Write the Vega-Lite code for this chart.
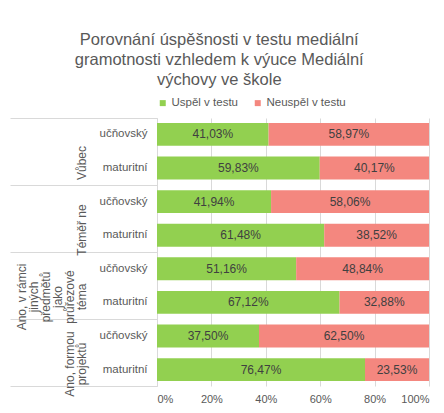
{
  "$schema": "https://vega.github.io/schema/vega-lite/v6.json",
  "background": "white",
  "padding": {"left": 9, "top": 31, "right": 5, "bottom": 5},
  "title": {
    "text": ["Porovnání úspěšnosti v testu mediální", "gramotnosti vzhledem k výuce Mediální", "výchovy ve škole"],
    "font": "Liberation Sans", "fontSize": 16.5, "fontWeight": "normal", "color": "#595959",
    "anchor": "middle", "frame": "bounds", "lineHeight": 20, "offset": 9
  },
  "width": 272,
  "height": 268,
  "data": {"values": [
    {"group": "Vůbec", "sub": "učňovský", "result": "Uspěl v testu", "pct": 41.03},
    {"group": "Vůbec", "sub": "učňovský", "result": "Neuspěl v testu", "pct": 58.97},
    {"group": "Vůbec", "sub": "maturitní", "result": "Uspěl v testu", "pct": 59.83},
    {"group": "Vůbec", "sub": "maturitní", "result": "Neuspěl v testu", "pct": 40.17},
    {"group": "Téměř ne", "sub": "učňovský", "result": "Uspěl v testu", "pct": 41.94},
    {"group": "Téměř ne", "sub": "učňovský", "result": "Neuspěl v testu", "pct": 58.06},
    {"group": "Téměř ne", "sub": "maturitní", "result": "Uspěl v testu", "pct": 61.48},
    {"group": "Téměř ne", "sub": "maturitní", "result": "Neuspěl v testu", "pct": 38.52},
    {"group": "Ano, v rámci jiných předmětů jako průřezové téma", "sub": "učňovský", "result": "Uspěl v testu", "pct": 51.16},
    {"group": "Ano, v rámci jiných předmětů jako průřezové téma", "sub": "učňovský", "result": "Neuspěl v testu", "pct": 48.84},
    {"group": "Ano, v rámci jiných předmětů jako průřezové téma", "sub": "maturitní", "result": "Uspěl v testu", "pct": 67.12},
    {"group": "Ano, v rámci jiných předmětů jako průřezové téma", "sub": "maturitní", "result": "Neuspěl v testu", "pct": 32.88},
    {"group": "Ano, formou projektů", "sub": "učňovský", "result": "Uspěl v testu", "pct": 37.50},
    {"group": "Ano, formou projektů", "sub": "učňovský", "result": "Neuspěl v testu", "pct": 62.50},
    {"group": "Ano, formou projektů", "sub": "maturitní", "result": "Uspěl v testu", "pct": 76.47},
    {"group": "Ano, formou projektů", "sub": "maturitní", "result": "Neuspěl v testu", "pct": 23.53}
  ]},
  "transform": [
    {"calculate": "datum.group + '|' + datum.sub", "as": "key"},
    {"calculate": "datum.result === 'Uspěl v testu' ? 0 : 1", "as": "ord"},
    {"stack": "pct", "groupby": ["key"], "sort": [{"field": "ord"}], "as": ["x0", "x1"]},
    {"calculate": "(datum.x0 + datum.x1) / 2", "as": "mid"},
    {"calculate": "replace(format(datum.pct, '.2f'), '.', ',') + '%'", "as": "lbl"}
  ],
  "layer": [
    {
      "encoding": {
        "y": {
          "field": "key", "type": "nominal",
          "sort": ["Vůbec|učňovský", "Vůbec|maturitní", "Téměř ne|učňovský", "Téměř ne|maturitní", "Ano, v rámci jiných předmětů jako průřezové téma|učňovský", "Ano, v rámci jiných předmětů jako průřezové téma|maturitní", "Ano, formou projektů|učňovský", "Ano, formou projektů|maturitní"],
          "scale": {"paddingInner": 0.32, "paddingOuter": 0.15},
          "axis": {
            "orient": "left", "title": null, "ticks": false, "labelPadding": 10, "labelOverlap": false,
            "labelExpr": "split(datum.value, '|')[1]", "domainColor": "#d9d9d9",
            "labelColor": "#595959", "labelFont": "Liberation Sans", "labelFontSize": 11.5
          }
        }
      },
      "layer": [
        {
          "mark": {"type": "bar"},
          "encoding": {
            "x": {
              "field": "x0", "type": "quantitative",
              "scale": {"domain": [0, 100], "nice": false},
              "axis": {
                "title": null, "values": [0, 20, 40, 60, 80, 100], "labelExpr": "datum.value + '%'",
                "domain": false, "ticks": false, "gridColor": "#d9d9d9",
                "labelColor": "#595959", "labelFont": "Liberation Sans", "labelFontSize": 11, "labelPadding": 7
              }
            },
            "x2": {"field": "x1"},
            "color": {
              "field": "result", "type": "nominal",
              "scale": {"domain": ["Uspěl v testu", "Neuspěl v testu"], "range": ["#92D050", "#F4877F"]},
              "legend": {
                "title": null, "orient": "top", "direction": "horizontal", "symbolType": "square",
                "symbolSize": 36, "symbolStrokeWidth": 0, "labelFont": "Liberation Sans", "labelFontSize": 11.5,
                "labelOffset": 3, "labelColor": "#595959", "columnPadding": 14, "offset": 9
              }
            }
          }
        },
        {
          "mark": {"type": "text", "font": "Liberation Sans", "fontSize": 12, "color": "#404040"},
          "encoding": {
            "x": {"field": "mid", "type": "quantitative"},
            "text": {"field": "lbl"}
          }
        }
      ]
    },
    {
      "mark": {"type": "text"},
      "encoding": {
        "y": {
          "field": "group", "type": "nominal",
          "sort": ["Vůbec", "Téměř ne", "Ano, v rámci jiných předmětů jako průřezové téma", "Ano, formou projektů"],
          "scale": {"paddingInner": 0, "paddingOuter": 0},
          "axis": {
            "orient": "left", "title": null, "domain": false,
            "tickBand": "extent", "tickSize": 147, "tickColor": "#d9d9d9",
            "labelAngle": -90, "labelAlign": "center", "labelBaseline": "bottom", "labelOffset": 11,
            "labelPadding": {"condition": [
              {"test": "datum.value === 'Ano, v rámci jiných předmětů jako průřezové téma'", "value": -18},
              {"test": "datum.value === 'Ano, formou projektů'", "value": -66}
            ], "value": -78},
            "labelOverlap": false, "labelLineHeight": 12,
            "labelColor": "#595959", "labelFont": "Liberation Sans", "labelFontSize": 12,
            "labelExpr": "datum.value === 'Ano, v rámci jiných předmětů jako průřezové téma' ? ['Ano, v rámci', 'jiných', 'předmětů', 'jako', 'průřezové', 'téma'] : datum.value === 'Ano, formou projektů' ? ['Ano, formou', 'projektů'] : datum.value"
          }
        },
        "text": {"value": ""}
      }
    }
  ],
  "resolve": {"scale": {"y": "independent"}, "axis": {"y": "independent"}},
  "config": {"view": {"stroke": null}}
}
